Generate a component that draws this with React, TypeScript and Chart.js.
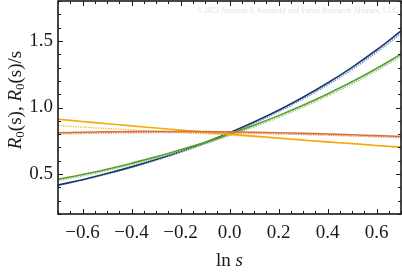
import React, { useEffect, useRef } from "react";
import { Chart, registerables } from "chart.js";

Chart.register(...registerables);

// ---- data ----
const lnS = [-0.7, -0.6, -0.5, -0.4, -0.3, -0.2, -0.1, 0.0, 0.1, 0.2, 0.3, 0.4, 0.5, 0.6, 0.7];

const blueSolid = [0.417, 0.458, 0.504, 0.554, 0.609, 0.670, 0.737, 0.810, 0.891, 0.979, 1.077, 1.184, 1.302, 1.432, 1.575];
const blueDotted = [0.414, 0.455, 0.500, 0.549, 0.603, 0.663, 0.729, 0.801, 0.881, 0.968, 1.064, 1.169, 1.286, 1.414, 1.556];
const greenSolid = [0.462, 0.497, 0.536, 0.581, 0.629, 0.682, 0.738, 0.800, 0.867, 0.939, 1.017, 1.102, 1.193, 1.293, 1.401];
const greenDotted = [0.450, 0.486, 0.526, 0.571, 0.619, 0.671, 0.727, 0.789, 0.855, 0.926, 1.003, 1.087, 1.178, 1.277, 1.384];
const orangeSolid = [0.912, 0.895, 0.878, 0.862, 0.846, 0.830, 0.815, 0.800, 0.785, 0.771, 0.756, 0.742, 0.729, 0.715, 0.702];
const orangeDotted = [0.865, 0.853, 0.842, 0.832, 0.822, 0.812, 0.803, 0.793, 0.780, 0.767, 0.753, 0.740, 0.727, 0.713, 0.700];
const redSolid = [0.810, 0.814, 0.817, 0.819, 0.820, 0.820, 0.819, 0.817, 0.814, 0.810, 0.806, 0.801, 0.795, 0.789, 0.782];
const redDotted = [0.801, 0.805, 0.808, 0.810, 0.811, 0.811, 0.810, 0.808, 0.805, 0.801, 0.797, 0.792, 0.786, 0.780, 0.773];

const xMajorTicks = [-0.6, -0.4, -0.2, 0.0, 0.2, 0.4, 0.6];
const xTickLabels = ["\u22120.6", "\u22120.4", "\u22120.2", "0.0", "0.2", "0.4", "0.6"];
const yMajorTicks = [0.5, 1.0, 1.5];
const yTickLabels = ["0.5", "1.0", "1.5"];
const X_MIN = -0.7;
const X_MAX = 0.7;
const Y_MIN = 0.2;
const Y_MAX = 1.8;
const X_MINOR_STEP = 0.05;
const Y_MINOR_STEP = 0.1;
const watermark = "\u00a9 2023 Andreas S. Kronfeld and Fermi Research Alliance, LLC";

const SERIF = "'Liberation Serif', 'Times New Roman', serif";

function pts(ys: number[]) {
  return ys.map((y, i) => ({ x: lnS[i], y }));
}

function minorValues(min: number, max: number, step: number) {
  const out: number[] = [];
  const n = Math.round((max - min) / step);
  for (let i = 0; i <= n; i++) out.push(+(min + i * step).toFixed(4));
  return out;
}

function isMajor(v: number, majors: number[]) {
  return majors.some((m) => Math.abs(m - v) < 1e-6);
}

type Seg = { text: string; font: string; dy: number };

function drawSegs(ctx: CanvasRenderingContext2D, segs: Seg[], cx: number, baseline: number) {
  let total = 0;
  const widths = segs.map((s) => {
    ctx.font = s.font;
    const w = ctx.measureText(s.text).width;
    total += w;
    return w;
  });
  let x = cx - total / 2;
  ctx.textBaseline = "alphabetic";
  ctx.textAlign = "left";
  segs.forEach((s, i) => {
    ctx.font = s.font;
    ctx.fillText(s.text, x, baseline + s.dy);
    x += widths[i];
  });
}

const framePlugin = {
  id: "frameTicks",
  beforeDatasetsDraw(chart: any) {
    const { ctx, chartArea } = chart;
    ctx.save();
    ctx.fillStyle = "#e9e9e9";
    ctx.font = `bold 7.4px ${SERIF}`;
    ctx.textAlign = "right";
    ctx.textBaseline = "middle";
    ctx.fillText(watermark, chartArea.right - 3, 11);
    ctx.restore();
  },
  afterDraw(chart: any) {
    const { ctx, chartArea } = chart;
    const { left, right, top, bottom } = chartArea;
    const xs = chart.scales.x;
    const ys = chart.scales.y;
    ctx.save();
    ctx.strokeStyle = "#1a1a1a";
    ctx.lineWidth = 1;
    ctx.beginPath();
    minorValues(X_MIN, X_MAX, X_MINOR_STEP).forEach((v) => {
      const px = Math.round(xs.getPixelForValue(v)) + 0.5;
      const len = isMajor(v, xMajorTicks) ? 5 : 3;
      ctx.moveTo(px, bottom);
      ctx.lineTo(px, bottom - len);
      ctx.moveTo(px, top);
      ctx.lineTo(px, top + len);
    });
    minorValues(Y_MIN, Y_MAX, Y_MINOR_STEP).forEach((v) => {
      const py = Math.round(ys.getPixelForValue(v)) + 0.5;
      const len = isMajor(v, yMajorTicks) ? 5 : 3;
      ctx.moveTo(left, py);
      ctx.lineTo(left + len, py);
      ctx.moveTo(right, py);
      ctx.lineTo(right - len, py);
    });
    ctx.stroke();
    ctx.lineWidth = 1.6;
    ctx.strokeRect(left, top, right - left, bottom - top);

    // axis titles
    ctx.fillStyle = "#1a1a1a";
    const big = `19px ${SERIF}`;
    const ital = `italic 19px ${SERIF}`;
    const sub = `13px ${SERIF}`;
    drawSegs(
      ctx,
      [
        { text: "ln ", font: big, dy: 0 },
        { text: "s", font: ital, dy: 0 },
      ],
      (left + right) / 2,
      266
    );
    ctx.translate(21, 100);
    ctx.rotate(-Math.PI / 2);
    drawSegs(
      ctx,
      [
        { text: "R", font: ital, dy: 0 },
        { text: "0", font: sub, dy: 3 },
        { text: "(s), ", font: big, dy: 0 },
        { text: "R", font: ital, dy: 0 },
        { text: "0", font: sub, dy: 3 },
        { text: "(s)/s", font: big, dy: 0 },
      ],
      0,
      0
    );
    ctx.restore();
  },
};

export default function App() {
  const ref = useRef<HTMLCanvasElement | null>(null);

  useEffect(() => {
    if (!ref.current) return;
    const solid = (data: number[], color: string) => ({
      data: pts(data),
      borderColor: color,
      borderWidth: 1.6,
      pointRadius: 0,
      tension: 0.4,
      fill: false,
    });
    const dotted = (data: number[], color: string) => ({
      data: pts(data),
      borderColor: color,
      borderWidth: 1.4,
      borderDash: [1.4, 1.1],
      pointRadius: 0,
      tension: 0.4,
      fill: false,
    });
    const chart = new Chart(ref.current, {
      type: "line",
      data: {
        datasets: [
          solid(redSolid, "#d6733c"),
          dotted(redDotted, "#e39062"),
          solid(orangeSolid, "#f3ab0c"),
          dotted(orangeDotted, "#f5bf3c"),
          solid(greenSolid, "#5b9c33"),
          dotted(greenDotted, "#94c970"),
          solid(blueSolid, "#1b3a6c"),
          dotted(blueDotted, "#6f8fc6"),
        ] as any,
      },
      options: {
        responsive: false,
        animation: false,
        devicePixelRatio: 1,
        layout: { padding: { top: 1, right: 1, left: 0, bottom: 0 } },
        plugins: { legend: { display: false }, tooltip: { enabled: false } },
        scales: {
          x: {
            type: "linear",
            min: X_MIN,
            max: X_MAX,
            grid: { display: false, drawTicks: false },
            border: { display: false },
            afterBuildTicks: (s: any) => {
              s.ticks = xMajorTicks.map((v) => ({ value: v }));
            },
            afterFit: (s: any) => {
              s.height = 60;
              s.paddingLeft = 0;
              s.paddingRight = 0;
            },
            ticks: {
              autoSkip: false,
              maxRotation: 0,
              padding: 8,
              color: "#1a1a1a",
              font: { family: SERIF, size: 19 },
              callback: (v: any) => {
                const i = xMajorTicks.findIndex((m) => Math.abs(m - Number(v)) < 1e-6);
                return i >= 0 ? xTickLabels[i] : "";
              },
            },
          },
          y: {
            type: "linear",
            min: Y_MIN,
            max: Y_MAX,
            grid: { display: false, drawTicks: false },
            border: { display: false },
            afterBuildTicks: (s: any) => {
              s.ticks = yMajorTicks.map((v) => ({ value: v }));
            },
            afterFit: (s: any) => {
              s.width = 58;
              s.paddingTop = 0;
              s.paddingBottom = 0;
            },
            ticks: {
              autoSkip: false,
              padding: 5,
              color: "#1a1a1a",
              font: { family: SERIF, size: 19 },
              callback: (v: any) => {
                const i = yMajorTicks.findIndex((m) => Math.abs(m - Number(v)) < 1e-6);
                return i >= 0 ? yTickLabels[i] : "";
              },
            },
          },
        },
      } as any,
      plugins: [framePlugin],
    });
    return () => chart.destroy();
  }, []);

  return (
    <div style={{ position: "absolute", left: 0, top: 0, width: 402, height: 274, background: "#fff" }}>
      <canvas ref={ref} width={402} height={274} style={{ display: "block" }} />
    </div>
  );
}
